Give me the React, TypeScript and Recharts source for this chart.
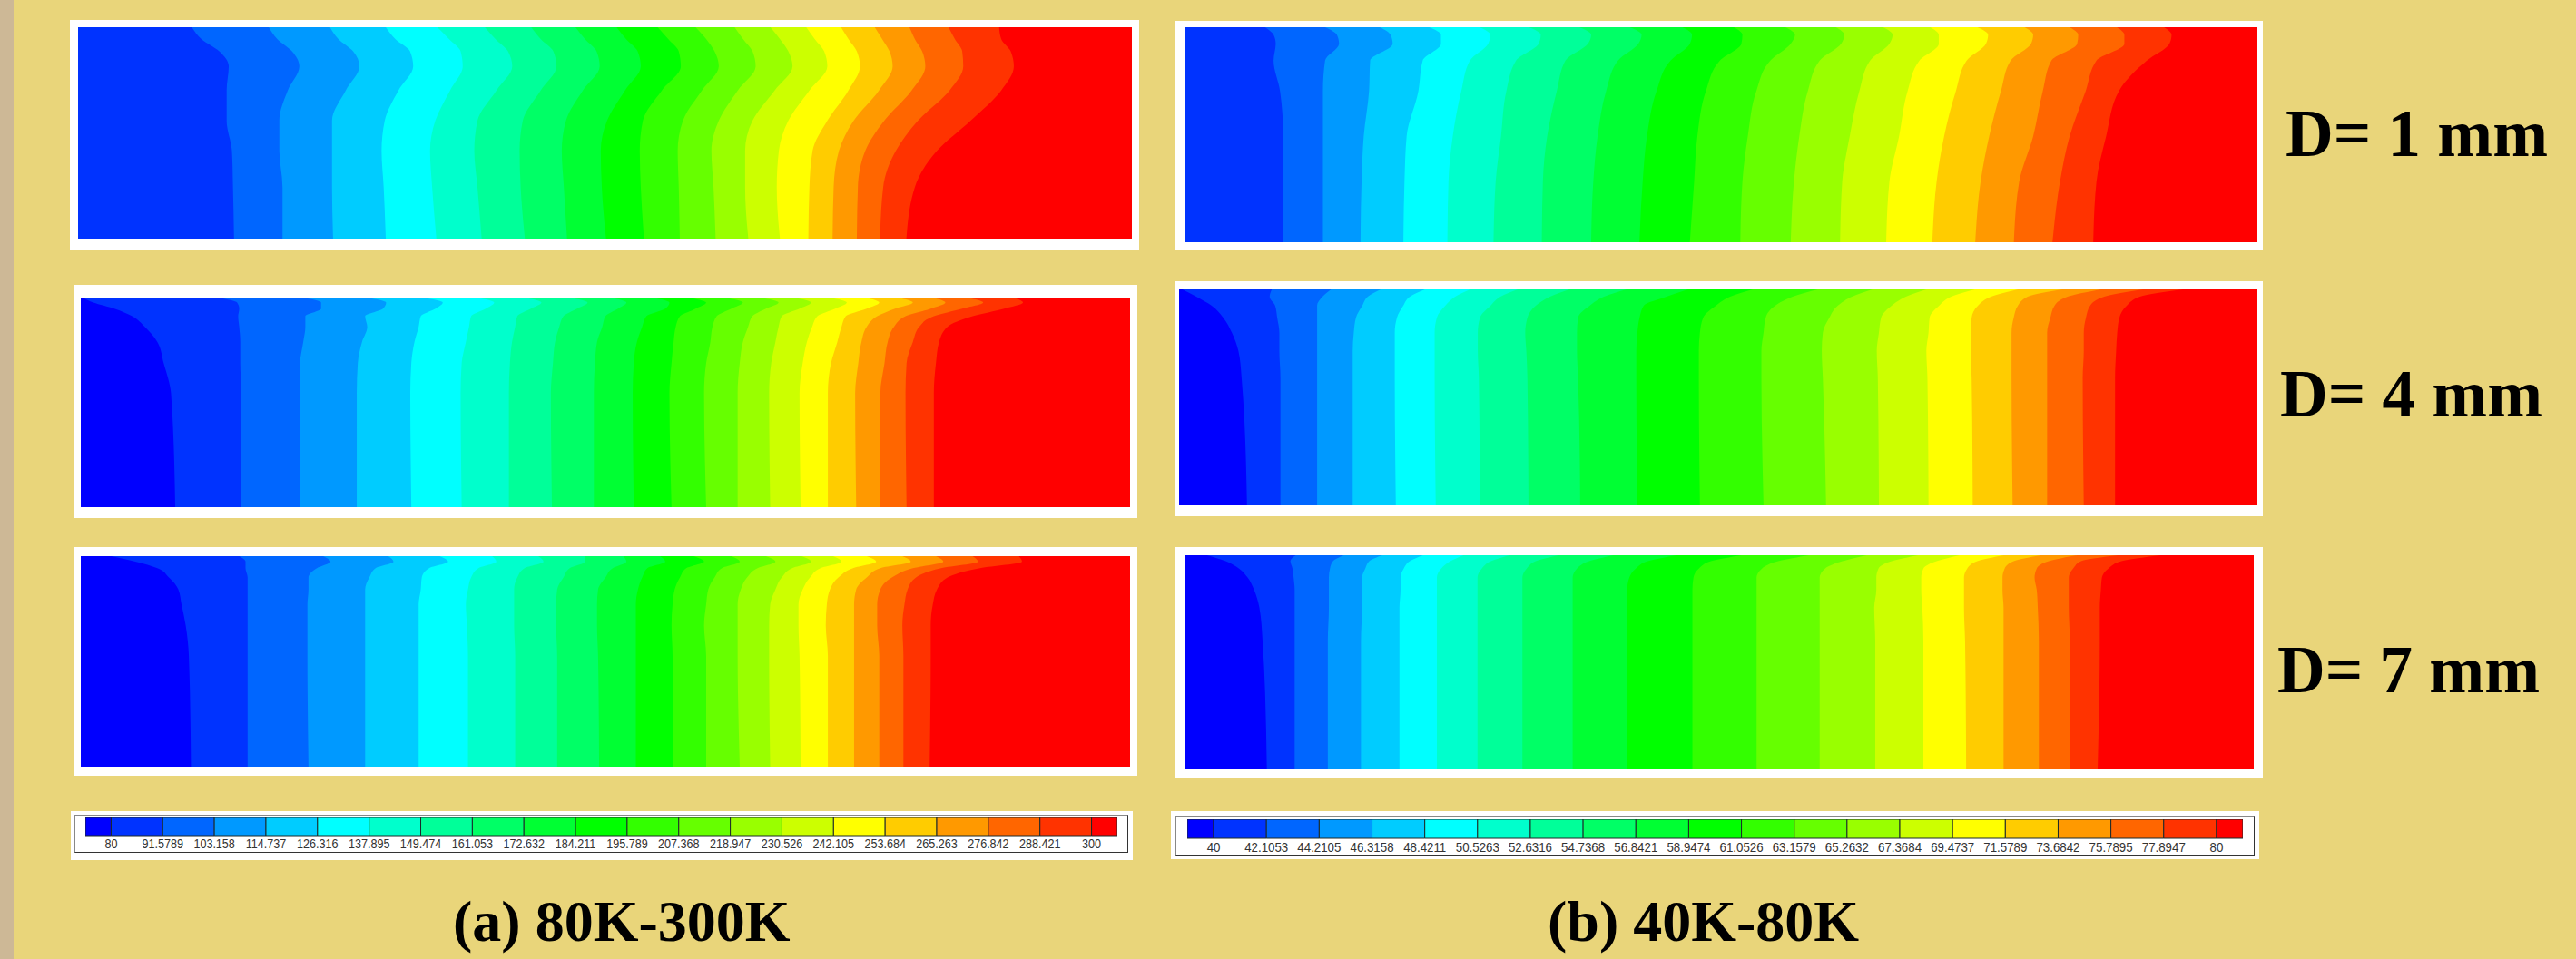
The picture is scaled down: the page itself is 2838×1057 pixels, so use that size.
import { Area, AreaChart, Bar, BarChart, XAxis, YAxis } from "recharts";

// contour fill colours, coldest to hottest
const BANDS = [
  "#0000ff", "#0033ff", "#0066ff", "#0099ff", "#00ccff", "#00ffff", "#00ffcc",
  "#00ff99", "#00ff66", "#00ff33", "#00ff00", "#33ff00", "#66ff00", "#99ff00",
  "#ccff00", "#ffff00", "#ffcc00", "#ff9900", "#ff6600", "#ff3300", "#ff0000",
];

const levelsA = [80, 91.5789, 103.158, 114.737, 126.316, 137.895, 149.474, 161.053, 172.632, 184.211, 195.789, 207.368, 218.947, 230.526, 242.105, 253.684, 265.263, 276.842, 288.421, 300];
const levelsB = [40, 42.1053, 44.2105, 46.3158, 48.4211, 50.5263, 52.6316, 54.7368, 56.8421, 58.9474, 61.0526, 63.1579, 65.2632, 67.3684, 69.4737, 71.5789, 73.6842, 75.7895, 77.8947, 80];

// Isotherm position along the channel (% of length) at each depth (% of height).
const a1Depth = [0, 5.6, 11.4, 18.5, 29.9, 44.2, 58.5, 75.7, 100];
const a1Isotherms = [
  [10.8, 11.7, 13.4, 14.3, 14.1, 14.1, 14.6, 14.7, 14.8],
  [18.1, 18.9, 20.3, 21.0, 19.9, 19.1, 19.1, 19.4, 19.4],
  [23.9, 24.7, 26.1, 26.7, 25.4, 24.1, 24.1, 24.1, 24.2],
  [29.2, 30.1, 31.5, 31.8, 30.4, 29.1, 28.8, 29.0, 29.2],
  [34.1, 35.2, 36.3, 36.5, 35.3, 33.9, 33.4, 33.6, 34.0],
  [38.6, 39.6, 40.8, 41.2, 39.7, 37.9, 37.6, 37.9, 38.3],
  [43.0, 43.9, 45.1, 45.4, 43.9, 42.2, 41.9, 42.0, 42.4],
  [47.2, 48.1, 49.2, 49.5, 47.9, 46.3, 45.9, 46.1, 46.4],
  [51.1, 52.0, 53.1, 53.4, 51.9, 50.2, 49.6, 49.7, 50.1],
  [55.0, 56.0, 57.0, 57.2, 55.4, 53.6, 53.3, 53.4, 53.7],
  [58.6, 59.6, 60.4, 60.8, 59.2, 57.4, 56.9, 57.0, 57.1],
  [62.3, 63.1, 64.0, 64.3, 62.6, 60.8, 60.1, 60.3, 60.5],
  [65.7, 66.6, 67.4, 67.8, 66.1, 64.0, 63.3, 63.3, 63.6],
  [69.1, 69.9, 70.8, 71.1, 69.4, 67.4, 66.5, 66.3, 66.6],
  [72.4, 73.1, 73.9, 74.2, 73.1, 71.1, 69.7, 69.4, 69.3],
  [75.6, 76.3, 77.0, 77.3, 76.0, 73.6, 72.2, 71.7, 71.6],
  [78.9, 79.4, 80.1, 80.4, 79.1, 76.5, 74.7, 74.0, 73.9],
  [82.6, 83.2, 83.9, 84.0, 82.7, 79.7, 77.6, 76.4, 76.1],
  [87.4, 87.6, 88.5, 88.8, 87.6, 84.7, 81.5, 79.4, 78.6],
];

const b1Depth = [0, 3.5, 7.7, 15.5, 29.6, 50.7, 71.8, 100];
const b1Isotherms = [
  [7.5, 8.3, 8.5, 8.3, 8.9, 9.2, 9.2, 9.2],
  [13.1, 14.2, 14.4, 13.1, 12.9, 12.9, 12.9, 12.9],
  [18.2, 19.2, 19.4, 17.3, 17.2, 16.7, 16.5, 16.4],
  [22.8, 23.9, 23.9, 22.2, 21.8, 20.7, 20.5, 20.4],
  [27.5, 28.5, 28.3, 26.6, 25.8, 25.0, 24.6, 24.5],
  [32.1, 33.2, 33.0, 30.9, 30.0, 29.5, 29.0, 28.8],
  [36.8, 37.9, 37.6, 35.5, 34.7, 33.8, 33.4, 33.3],
  [41.5, 42.6, 42.3, 40.4, 39.3, 38.5, 38.1, 37.9],
  [46.4, 47.3, 47.1, 45.3, 44.0, 43.1, 42.7, 42.4],
  [51.2, 52.0, 51.9, 49.9, 48.6, 47.8, 47.5, 47.1],
  [56.0, 56.9, 56.5, 54.6, 53.3, 52.5, 52.0, 51.8],
  [60.7, 61.5, 61.2, 59.2, 58.1, 57.3, 56.8, 56.5],
  [65.1, 66.0, 65.7, 63.9, 62.9, 62.0, 61.3, 61.1],
  [69.5, 70.3, 70.3, 68.5, 67.4, 66.6, 65.7, 65.4],
  [73.9, 74.9, 74.7, 72.9, 71.9, 70.8, 70.1, 69.7],
  [78.3, 79.1, 78.9, 77.0, 76.1, 75.0, 74.2, 73.7],
  [82.5, 83.3, 83.2, 80.8, 80.0, 79.1, 77.8, 77.3],
  [86.9, 87.6, 87.6, 85.0, 84.0, 82.5, 81.6, 80.9],
  [91.3, 92.0, 91.8, 89.7, 87.1, 85.9, 85.0, 84.7],
];

const a2Depth = [0, 2.4, 5.3, 8.9, 14, 21.2, 31.3, 45.7, 100];
const a2Isotherms = [
  [0.2, 1.2, 3.2, 4.9, 6.1, 7.3, 7.9, 8.6, 9.0],
  [13.1, 14.9, 15.1, 15.0, 15.1, 15.2, 15.2, 15.3, 15.3],
  [21.2, 22.9, 22.9, 21.4, 21.4, 21.2, 20.9, 20.9, 20.9],
  [27.3, 29.1, 28.8, 27.1, 27.3, 26.8, 26.4, 26.3, 26.3],
  [32.6, 34.5, 33.8, 32.4, 32.2, 31.8, 31.5, 31.4, 31.5],
  [37.7, 39.4, 38.6, 37.2, 37.0, 36.7, 36.3, 36.2, 36.3],
  [42.3, 43.9, 42.9, 41.6, 41.4, 41.1, 40.9, 40.8, 40.8],
  [46.6, 48.3, 47.3, 46.0, 45.6, 45.2, 45.0, 44.8, 44.9],
  [50.5, 52.0, 51.2, 50.0, 49.7, 49.2, 49.0, 48.9, 48.9],
  [54.5, 56.1, 55.7, 53.9, 53.5, 53.0, 52.7, 52.6, 52.7],
  [57.9, 59.6, 58.6, 57.1, 56.7, 56.5, 56.3, 56.1, 56.3],
  [61.4, 63.1, 62.0, 60.6, 60.2, 60.0, 59.6, 59.4, 59.6],
  [64.8, 66.5, 65.3, 64.0, 63.6, 63.1, 62.8, 62.6, 62.6],
  [68.0, 69.6, 68.5, 66.8, 66.5, 66.2, 65.8, 65.6, 65.7],
  [71.4, 73.0, 71.9, 70.2, 69.7, 69.2, 68.8, 68.5, 68.6],
  [74.8, 76.1, 74.9, 72.9, 72.5, 72.1, 71.5, 71.2, 71.2],
  [77.9, 79.3, 77.6, 75.9, 74.9, 74.4, 74.1, 73.8, 73.9],
  [81.2, 82.4, 81.0, 78.6, 77.5, 76.9, 76.6, 76.2, 76.2],
  [84.5, 86.0, 84.0, 81.3, 79.9, 79.3, 78.7, 78.6, 78.7],
  [88.9, 89.8, 88.0, 85.0, 82.6, 81.8, 81.5, 81.3, 81.3],
];

const b2Depth = [0, 3.4, 7.5, 13.1, 20.1, 28.5, 41.1, 100];
const b2Isotherms = [
  [0.3, 1.6, 3.0, 4.1, 4.9, 5.5, 5.8, 6.3],
  [8.6, 8.4, 8.9, 9.1, 9.3, 9.3, 9.4, 9.4],
  [14.1, 13.3, 12.8, 12.8, 12.8, 12.8, 12.8, 12.8],
  [18.7, 17.5, 17.0, 16.4, 16.2, 16.1, 16.1, 16.1],
  [22.8, 21.4, 20.8, 20.2, 20.0, 20.0, 20.0, 20.1],
  [27.0, 25.6, 24.7, 23.9, 23.7, 23.7, 23.7, 23.8],
  [31.4, 29.8, 28.9, 27.9, 27.7, 27.7, 27.8, 27.9],
  [36.2, 34.4, 33.1, 32.3, 32.1, 32.2, 32.3, 32.4],
  [41.5, 39.4, 38.1, 37.0, 36.9, 36.9, 37.0, 37.2],
  [47.2, 45.2, 43.1, 42.7, 42.5, 42.4, 42.4, 42.5],
  [53.2, 51.1, 49.8, 48.6, 48.3, 48.2, 48.2, 48.3],
  [59.2, 56.9, 55.3, 54.4, 54.2, 54.0, 54.0, 54.2],
  [64.3, 62.4, 61.1, 60.3, 59.7, 59.6, 59.7, 60.0],
  [69.3, 67.4, 66.1, 65.1, 64.9, 64.7, 64.8, 64.9],
  [73.8, 71.6, 70.5, 69.6, 69.5, 69.3, 69.4, 69.5],
  [77.8, 75.3, 74.1, 73.5, 73.4, 73.4, 73.5, 73.6],
  [81.9, 78.7, 77.8, 77.4, 77.2, 77.2, 77.2, 77.3],
  [85.5, 82.4, 81.2, 80.8, 80.5, 80.5, 80.5, 80.5],
  [89.4, 85.8, 84.5, 84.1, 83.9, 83.9, 83.8, 83.9],
  [93.1, 89.1, 87.9, 87.2, 87.0, 86.9, 86.8, 86.8],
];

const a3Depth = [0, 2.6, 5.7, 10.1, 15.8, 23, 33, 47.4, 100];
const a3Isotherms = [
  [2.9, 5.2, 7.3, 8.4, 9.3, 9.6, 10.0, 10.3, 10.5],
  [15.1, 15.7, 15.7, 15.9, 15.9, 15.9, 15.9, 15.9, 15.9],
  [23.1, 23.8, 22.5, 21.7, 21.7, 21.6, 21.6, 21.6, 21.7],
  [29.3, 29.8, 28.1, 27.5, 27.1, 27.1, 27.1, 27.1, 27.1],
  [34.2, 35.0, 33.2, 32.5, 32.4, 32.2, 32.2, 32.2, 32.2],
  [39.2, 39.6, 37.9, 37.2, 36.9, 36.7, 36.8, 36.9, 36.9],
  [43.6, 44.1, 42.3, 41.6, 41.3, 41.3, 41.3, 41.4, 41.4],
  [48.0, 48.1, 46.6, 46.0, 45.4, 45.3, 45.3, 45.4, 45.4],
  [51.7, 52.0, 50.7, 50.0, 49.3, 49.2, 49.2, 49.3, 49.4],
  [55.2, 55.7, 54.0, 53.5, 53.1, 52.9, 52.9, 52.9, 52.9],
  [58.4, 59.4, 57.7, 57.1, 56.6, 56.4, 56.3, 56.4, 56.4],
  [62.0, 62.8, 61.1, 60.4, 59.8, 59.6, 59.4, 59.6, 59.6],
  [65.3, 66.2, 64.5, 63.5, 62.9, 62.6, 62.6, 62.6, 62.8],
  [68.7, 69.6, 67.8, 66.8, 66.2, 65.7, 65.6, 65.6, 65.7],
  [71.7, 72.5, 70.5, 69.5, 68.8, 68.4, 68.4, 68.5, 68.6],
  [74.9, 75.8, 73.6, 72.2, 71.4, 71.1, 71.0, 71.2, 71.2],
  [78.3, 79.1, 76.2, 74.9, 73.9, 73.7, 73.7, 73.7, 73.7],
  [81.5, 82.2, 79.3, 77.3, 76.2, 75.9, 75.9, 76.1, 76.1],
  [85.0, 85.5, 82.0, 79.6, 78.8, 78.5, 78.3, 78.4, 78.4],
  [89.4, 89.7, 85.7, 82.6, 81.6, 81.2, 81.0, 81.0, 80.9],
];

const b3Depth = [0, 2.7, 6.2, 10.4, 16.1, 24.5, 40, 100];
const b3Isotherms = [
  [2.1, 3.8, 5.1, 5.9, 6.5, 7.0, 7.3, 7.7],
  [10.4, 9.9, 10.1, 10.2, 10.3, 10.3, 10.3, 10.3],
  [14.9, 13.9, 13.6, 13.5, 13.5, 13.5, 13.4, 13.4],
  [18.5, 17.3, 16.9, 16.6, 16.6, 16.6, 16.5, 16.5],
  [22.3, 21.1, 20.5, 20.2, 20.2, 20.1, 20.1, 20.1],
  [26.1, 24.9, 24.0, 23.6, 23.6, 23.6, 23.6, 23.6],
  [30.4, 28.7, 27.8, 27.4, 27.4, 27.4, 27.4, 27.4],
  [35.0, 32.9, 32.0, 31.6, 31.6, 31.6, 31.6, 31.6],
  [40.1, 37.9, 36.7, 36.3, 36.3, 36.3, 36.3, 36.3],
  [46.0, 43.4, 42.2, 41.6, 41.4, 41.4, 41.4, 41.4],
  [52.1, 49.3, 48.1, 47.6, 47.5, 47.5, 47.5, 47.5],
  [58.4, 55.6, 54.0, 53.5, 53.5, 53.5, 53.5, 53.5],
  [63.8, 61.6, 59.9, 59.4, 59.4, 59.4, 59.4, 59.4],
  [68.6, 66.2, 64.9, 64.7, 64.7, 64.5, 64.6, 64.6],
  [72.5, 70.4, 69.1, 68.9, 68.9, 69.0, 69.1, 69.1],
  [76.6, 74.2, 73.2, 72.9, 72.9, 72.9, 73.0, 73.1],
  [80.1, 77.6, 76.7, 76.5, 76.5, 76.6, 76.6, 76.6],
  [83.5, 80.9, 79.7, 79.5, 79.7, 79.8, 79.9, 79.9],
  [87.3, 83.9, 83.1, 82.7, 82.7, 82.7, 82.8, 82.8],
  [91.3, 87.7, 86.4, 85.8, 85.7, 85.6, 85.6, 85.4],
];

interface PanelProps {
  depth: number[];
  isotherms: number[][];
  firstBand: number;
  frame: number[]; // left, top, right, bottom of the white box
  plot: number[]; // same for the contour area
}

function ContourPanel({ depth, isotherms, firstBand, frame, plot }: PanelProps) {
  const table = depth.map((d, i) => {
    const row: Record<string, number> = { depth: d, end: 100 };
    isotherms.forEach((line, k) => {
      row[`t${k}`] = line[i];
    });
    return row;
  });
  // hottest first, every colder band paints over it from the left edge
  const order = isotherms.map((_, k) => isotherms.length - 1 - k);

  return (
    <>
      <div
        style={{
          position: "absolute",
          left: frame[0],
          top: frame[1],
          width: frame[2] - frame[0],
          height: frame[3] - frame[1],
          background: "#fff",
        }}
      />
      <div style={{ position: "absolute", left: plot[0], top: plot[1] }}>
        <AreaChart
          layout="vertical"
          width={plot[2] - plot[0]}
          height={plot[3] - plot[1]}
          data={table}
          margin={{ top: 0, right: 0, bottom: 0, left: 0 }}
        >
          <XAxis type="number" domain={[0, 100]} hide />
          <YAxis type="number" dataKey="depth" domain={[0, 100]} hide />
          <Area dataKey="end" type="linear" fill="#ff0000" fillOpacity={1} stroke="none" isAnimationActive={false} />
          {order.map((k) => (
            <Area
              key={k}
              dataKey={`t${k}`}
              type="monotone"
              fill={BANDS[firstBand + k]}
              fillOpacity={1}
              stroke="none"
              isAnimationActive={false}
            />
          ))}
        </AreaChart>
      </div>
    </>
  );
}

interface ScaleProps {
  levels: number[];
  frame: number[];
  border: number[];
  bar: number[];
  labelDy: number;
  squeeze: number;
}

function ColorScale({ levels, frame, border, bar, labelDy, squeeze }: ScaleProps) {
  const step = levels[1] - levels[0];
  const low = levels[0] - step / 2;
  const high = levels[levels.length - 1] + step / 2;
  const row: Record<string, number | string> = { name: "scale", offset: low, c0: step / 2 };
  levels.forEach((lv, i) => {
    if (i > 0) row[`c${i}`] = lv - levels[i - 1];
  });
  row[`c${levels.length}`] = step / 2;
  const barH = bar[3] - bar[1];

  const LevelTick = ({ x, y, payload }: any) => (
    <text
      transform={`translate(${x},${y + labelDy}) scale(${squeeze},1)`}
      textAnchor="middle"
      fontFamily="Liberation Sans"
      fontSize={14}
      fill="#333"
    >
      {payload.value}
    </text>
  );

  return (
    <>
      <div
        style={{
          position: "absolute",
          left: frame[0],
          top: frame[1],
          width: frame[2] - frame[0],
          height: frame[3] - frame[1],
          background: "#fff",
        }}
      />
      <div
        style={{
          position: "absolute",
          left: border[0],
          top: border[1],
          width: border[2] - border[0] - 3,
          height: border[3] - border[1] - 3,
          borderStyle: "solid",
          borderColor: "#888 #333 #333 #888",
          borderWidth: 1.5,
        }}
      />
      <div style={{ position: "absolute", left: bar[0], top: bar[1] }}>
        <BarChart
          layout="vertical"
          width={bar[2] - bar[0]}
          height={barH + 24}
          data={[row]}
          barCategoryGap={0}
          margin={{ top: 0, right: 0, bottom: 0, left: 0 }}
        >
          <XAxis
            type="number"
            domain={[low, high]}
            allowDataOverflow
            ticks={levels}
            interval={0}
            height={24}
            axisLine={false}
            tickLine={false}
            tick={<LevelTick />}
          />
          <YAxis type="category" dataKey="name" hide />
          <Bar dataKey="offset" stackId="s" fill="none" isAnimationActive={false} />
          {BANDS.map((color, i) => (
            <Bar
              key={color}
              dataKey={`c${i}`}
              stackId="s"
              fill={color}
              stroke="#1c2a2a"
              strokeWidth={1}
              isAnimationActive={false}
            />
          ))}
        </BarChart>
      </div>
    </>
  );
}

const titleFont = { position: "absolute", fontFamily: "Liberation Serif", fontWeight: 700, lineHeight: 1, whiteSpace: "nowrap", color: "#000" } as const;

export default function App() {
  return (
    <div style={{ position: "absolute", left: 0, top: 0, width: 2838, height: 1057, overflow: "hidden", background: "#e9d57a" }}>
      <div style={{ position: "absolute", left: 0, top: 0, width: 15, height: 1057, background: "#cdb896" }} />

      <ContourPanel depth={a1Depth} isotherms={a1Isotherms} firstBand={1} frame={[77, 22, 1255, 275]} plot={[86, 30, 1247, 263]} />
      <ContourPanel depth={b1Depth} isotherms={b1Isotherms} firstBand={1} frame={[1294, 23, 2493, 275]} plot={[1305, 30, 2487, 267]} />
      <ContourPanel depth={a2Depth} isotherms={a2Isotherms} firstBand={0} frame={[81, 314, 1253, 571]} plot={[89, 328, 1245, 559]} />
      <ContourPanel depth={b2Depth} isotherms={b2Isotherms} firstBand={0} frame={[1294, 310, 2493, 569]} plot={[1299, 319, 2487, 557]} />
      <ContourPanel depth={a3Depth} isotherms={a3Isotherms} firstBand={0} frame={[81, 603, 1253, 855]} plot={[89, 613, 1245, 845]} />
      <ContourPanel depth={b3Depth} isotherms={b3Isotherms} firstBand={0} frame={[1294, 603, 2493, 858]} plot={[1305, 612, 2483, 848]} />

      <ColorScale levels={levelsA} frame={[78, 894, 1248, 948]} border={[82, 898, 1244, 941]} bar={[94, 901, 1231, 921]} labelDy={6} squeeze={0.9} />
      <ColorScale levels={levelsB} frame={[1290, 894, 2489, 947]} border={[1295, 899, 2485, 944]} bar={[1308, 903, 2471, 924]} labelDy={7} squeeze={0.95} />

      <div style={{ ...titleFont, left: 2518, top: 111, fontSize: 73 }}>D= 1 mm</div>
      <div style={{ ...titleFont, left: 2512, top: 398, fontSize: 73 }}>D= 4 mm</div>
      <div style={{ ...titleFont, left: 2509, top: 702, fontSize: 73 }}>D= 7 mm</div>
      <div style={{ ...titleFont, left: 499, top: 984, fontSize: 64 }}>(a) 80K-300K</div>
      <div style={{ ...titleFont, left: 1705, top: 984, fontSize: 64 }}>(b) 40K-80K</div>
    </div>
  );
}
